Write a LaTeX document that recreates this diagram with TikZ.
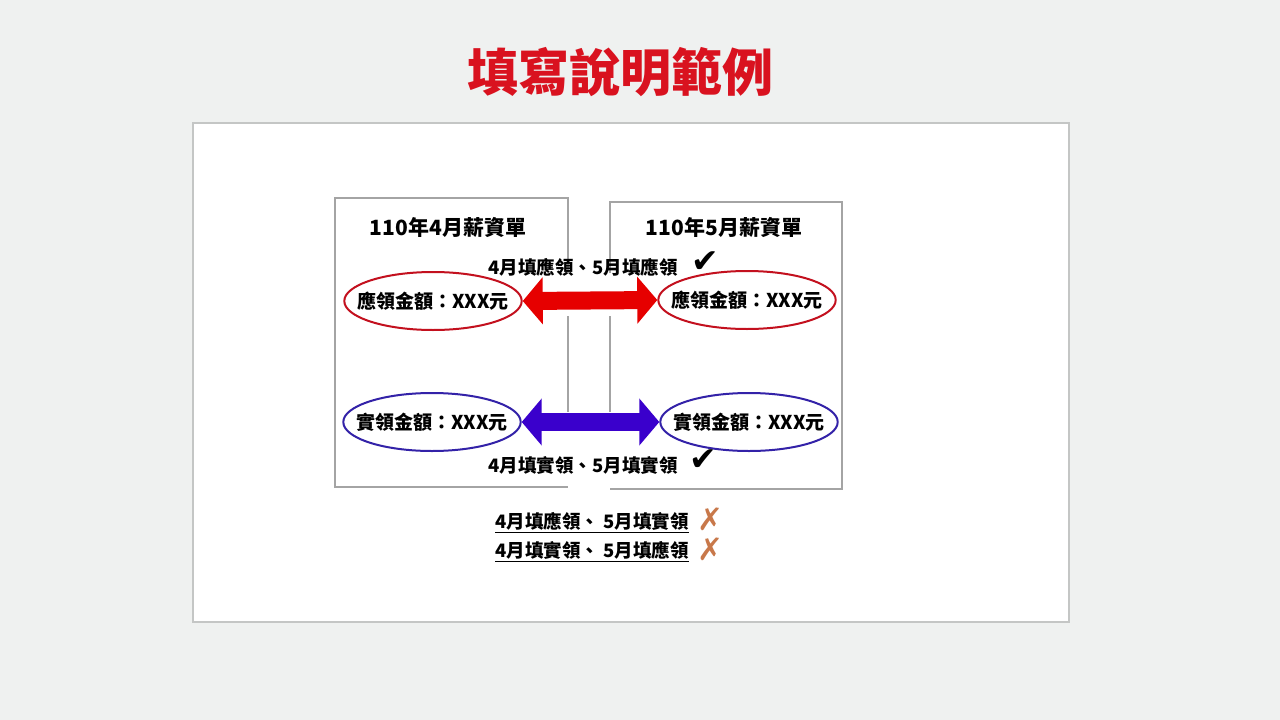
\documentclass[tikz,border=0pt]{standalone}
\usepackage{fontspec}
\setmainfont{Noto Sans CJK TC}
\newfontfamily\symf{DejaVu Sans}
\usetikzlibrary{shapes.geometric,arrows.meta}
\definecolor{bg}{HTML}{EFF1F0}
\definecolor{ttl}{HTML}{D9121F}
\definecolor{framec}{HTML}{A4A4A4}
\definecolor{panelc}{HTML}{C4C6C5}
\definecolor{redell}{HTML}{C3101E}
\definecolor{redarr}{HTML}{E60000}
\definecolor{blueell}{HTML}{3322A8}
\definecolor{bluearr}{HTML}{3A00CC}
\definecolor{crossc}{HTML}{C8784A}
\begin{document}
\begin{tikzpicture}[x=1pt,y=-1pt,
  hdr/.style={font=\fontsize{21}{21}\selectfont\bfseries, inner sep=0pt},
  lbl/.style={font=\fontsize{18.5}{18.5}\selectfont\bfseries, inner sep=0pt},
  ell/.style={ellipse, draw, line width=2pt, minimum height=58pt,
    inner xsep=-13pt, inner ysep=0pt, fill=white, font=\fontsize{19}{19}\selectfont\bfseries},
  redel/.style={ell, draw=redell},
  blueel/.style={ell, draw=blueell},
  fr/.style={draw=framec, line width=2pt},
  dbl/.style={line width=18pt,
    {Triangle[width=46pt,length=20pt]}-{Triangle[width=46pt,length=20pt]}},
  chk/.style={font=\symf\fontsize{33}{33}\selectfont, inner sep=0pt},
  crs/.style={font=\symf\fontsize{31}{31}\selectfont, text=crossc, inner sep=0pt},
  uline/.style={line width=1.5pt}
]
\useasboundingbox (0,0) rectangle (1280,720);
\fill[bg] (0,0) rectangle (1280,720);
% panel
\fill[white] (193,123) rectangle (1069,622);
\draw[panelc, line width=1.5pt] (193,123) rectangle (1069,622);

% title
\node[text=ttl, font=\fontsize{51}{51}\selectfont\bfseries, inner sep=0pt] (title) at (620,72) {填寫說明範例};

% frames
\draw[fr] (568,273) -- (568,198) -- (335,198) -- (335,487) -- (568,487);
\draw[fr] (568,316) -- (568,412);
\draw[fr] (610,273) -- (610,202) -- (842,202) -- (842,489) -- (610,489);
\draw[fr] (610,316) -- (610,412);

% headers
\node[hdr] (h4) at (448,227) {110年4月薪資單};
\node[hdr] (h5) at (724,227) {110年5月薪資單};

% ellipses
\node[redel] (r4) at (433,301) {應領金額：XXX元};
\node[redel] (r5) at (747,300) {應領金額：XXX元};
\node[blueel] (b4) at (432,422) {實領金額：XXX元};
\node[blueel] (b5) at (749,422) {實領金額：XXX元};

% arrows
\draw[dbl, redarr] (r4.east) -- (r5.west);
\draw[dbl, bluearr] (b4.east) -- (b5.west);

% labels
\node[lbl] (t1) at (583,267) {4月填應領、5月填應領};
\node[chk] (c1) at (705,262) {✔};
\node[lbl] (t2) at (583,465) {4月填實領、5月填實領};
\node[chk] (c2) at (703,460) {✔};

% wrong examples
\node[lbl] (w1) at (592,521) {4月填應領、 5月填實領};
\draw[uline] ([yshift=-2.5pt]w1.south west) -- ([yshift=-2.5pt]w1.south east);
\node[crs] (x1) at (710,519) {✗};
\node[lbl] (w2) at (592,550) {4月填實領、 5月填應領};
\draw[uline] ([yshift=-2.5pt]w2.south west) -- ([yshift=-2.5pt]w2.south east);
\node[crs] (x2) at (710,549) {✗};
\end{tikzpicture}
\end{document}
